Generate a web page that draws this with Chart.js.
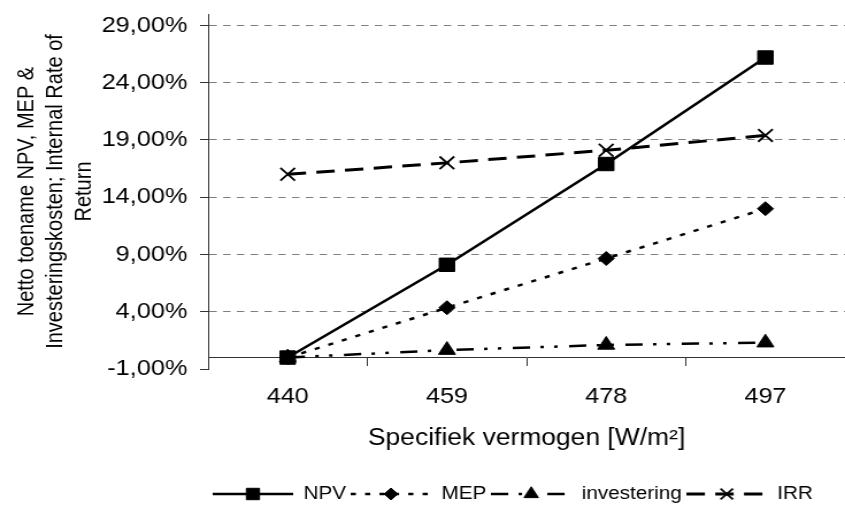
<!DOCTYPE html>
<html>
<head>
<meta charset="utf-8">
<script src="https://cdn.jsdelivr.net/npm/chart.js@4.4.0/dist/chart.umd.min.js"></script>
<style>
	html, body { margin: 0; padding: 0; background: #fff; overflow: hidden; }
	#myChart { transform: scaleX(1.1497); transform-origin: 0 0; }
</style>
</head>
<body>
<canvas id="myChart" width="735" height="513"></canvas>
<script>
var categories = ["440", "459", "478", "497"]
var npvValues = [0, 8.1, 16.9, 26.2]
var mepValues = [0, 4.35, 8.65, 13.0]
var investeringValues = [0, 0.65, 1.1, 1.3]
var irrValues = [16.0, 17.0, 18.1, 19.4]
var yTicks = [-1, 4, 9, 14, 19, 24, 29]

var fontName = "'Liberation Sans', Arial, sans-serif"

function formatPct(v) {
	return v.toFixed(2).replace('.', ',') + '%'
}

// small picture for the legend: line sample with the marker in the middle
function legendSample(ds) {
	var c = document.createElement('canvas')
	c.width = 70
	c.height = 20
	var g = c.getContext('2d')
	g.strokeStyle = '#000'
	g.fillStyle = '#000'
	g.lineWidth = ds.borderWidth
	g.setLineDash(ds.borderDash || [])
	g.beginPath()
	g.moveTo(0, 10)
	g.lineTo(70, 10)
	g.stroke()
	g.setLineDash([])
	g.lineWidth = ds.pointBorderWidth
	Chart.helpers.drawPoint(g, {pointStyle: ds.pointStyle, radius: ds.pointRadius * 0.85, rotation: 0, borderWidth: ds.pointBorderWidth}, 35, 10)
	return c
}

function noSidePadding(scale) {
	scale.paddingLeft = 0
	scale.paddingRight = 0
}

var datasets = [
	{label: "NPV", data: npvValues, borderColor: '#000', backgroundColor: '#000', borderWidth: 2.5, borderDash: [],
		pointStyle: 'rect', pointRadius: 9.5, pointBorderWidth: 1, pointBackgroundColor: '#000', pointBorderColor: '#000'},
	{label: "MEP", data: mepValues, borderColor: '#000', backgroundColor: '#000', borderWidth: 2.5, borderDash: [4.5, 8],
		pointStyle: 'rectRot', pointRadius: 7, pointBorderWidth: 1, pointBackgroundColor: '#000', pointBorderColor: '#000'},
	{label: "investering", data: investeringValues, borderColor: '#000', backgroundColor: '#000', borderWidth: 2.5, borderDash: [15, 9, 3, 9, 3, 10],
		pointStyle: 'triangle', pointRadius: 8.5, pointBorderWidth: 1, pointBackgroundColor: '#000', pointBorderColor: '#000'},
	{label: "IRR", data: irrValues, borderColor: '#000', backgroundColor: '#000', borderWidth: 3, borderDash: [16, 9],
		pointStyle: 'crossRot', pointRadius: 9, pointBorderWidth: 1.8, pointBackgroundColor: '#000', pointBorderColor: '#000'}
]
datasets.forEach(function(d){ d.xAxisID = 'x'; d.yAxisID = 'y'; d.tension = 0; d.fill = false })

var canvasCtx = document.getElementById("myChart").getContext('2d')
var config = {
	type: 'line',
	data: {labels: categories, datasets: datasets},
	options: {
		responsive: false,
		maintainAspectRatio: false,
		animation: false,
		layout: {autoPadding: false, padding: {top: 14, left: 0, right: 0, bottom: 0}},
		plugins: {
			tooltip: {enabled: false},
			legend: {
				position: 'bottom',
				fullSize: false,
				align: 'start',
				labels: {
					usePointStyle: true,
					pointStyleWidth: 70,
					padding: 4,
					color: '#000',
					font: {family: fontName, size: 18},
					generateLabels: function(chart) {
						return chart.data.datasets.map(function(ds, i) {
							return {text: ds.label, pointStyle: legendSample(ds), fillStyle: '#000', strokeStyle: '#000',
								lineWidth: 0, datasetIndex: i, hidden: false, fontColor: '#000'}
						})
					}
				}
			}
		},
		scales: {
			x: {
				type: 'category',
				position: 'bottom',
				offset: true,
				afterFit: noSidePadding,
				grid: {display: false},
				border: {display: false},
				ticks: {color: '#000', padding: 7, font: {family: fontName, size: 22}},
				title: {display: true, text: "Specifiek vermogen [W/m²]", color: '#000',
					font: {family: fontName, size: 23}, padding: {top: 7, bottom: 29}}
			},
			x2: {
				type: 'category',
				position: {y: 0},
				offset: true,
				afterFit: noSidePadding,
				grid: {offset: true, drawOnChartArea: false, drawTicks: true, tickLength: 8, tickColor: '#333', tickWidth: 1},
				border: {display: true, color: '#333', width: 1},
				ticks: {display: false}
			},
			y: {
				type: 'linear',
				position: 'left',
				min: -1,
				max: 30,
				afterBuildTicks: function(scale) {
					scale.ticks = yTicks.map(function(v){ return {value: v} })
				},
				afterFit: function(scale) {
					scale.width = 181
					scale.paddingTop = 0
					scale.paddingBottom = 0
				},
				grid: {
					color: function(c) { return c.tick && c.tick.value === -1 ? 'rgba(0,0,0,0)' : '#7f7f7f' },
					lineWidth: 1,
					tickLength: 7,
					tickColor: '#333',
					drawTicks: true
				},
				border: {display: true, color: '#333', width: 1, dash: [6.5, 5.5]},
				ticks: {color: '#000', padding: 11, font: {family: fontName, size: 22},
					callback: function(v) { return formatPct(v) }},
				title: {display: true, color: '#000', font: {family: fontName, size: 20, lineHeight: 1.25},
					padding: {top: 11, bottom: 0},
					text: ["Netto toename NPV, MEP &", "Investeringskosten; Internal Rate of", "Return"]}
			}
		}
	}
}
var myChart = new Chart(canvasCtx, config)
</script>
</body>
</html>
